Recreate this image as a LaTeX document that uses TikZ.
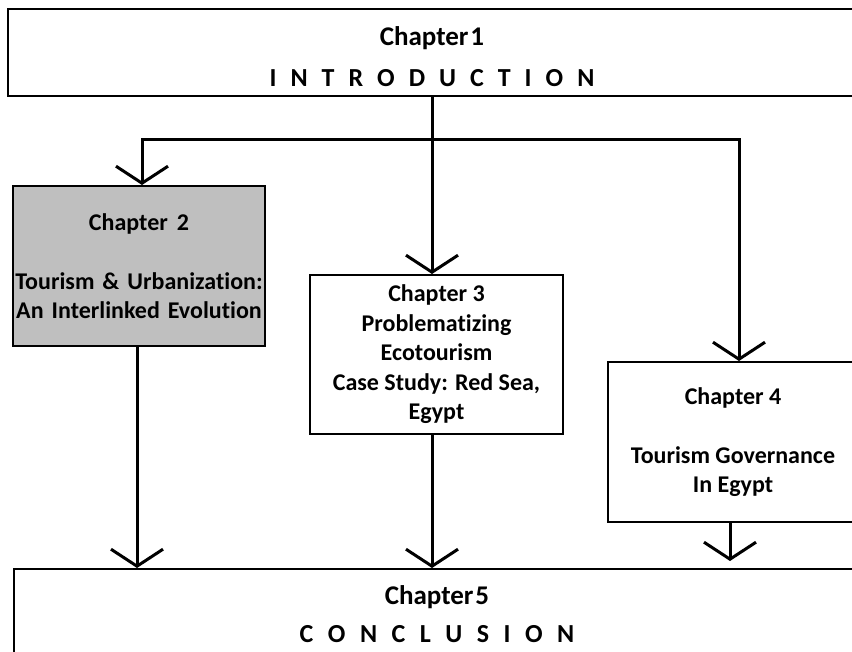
\documentclass[tikz,border=0pt]{standalone}
\usepackage{fontspec}
\setmainfont{Carlito}[Ligatures={NoCommon}]
\usetikzlibrary{arrows.meta}
\definecolor{boxgray}{RGB}{191,191,191}
\newcommand{\lsp}{\hspace{14pt}}
\newcommand{\lspb}{\hspace{14.5pt}}
\begin{document}
\begin{tikzpicture}[x=1pt,y=-1pt,
  box/.style={draw=black, line width=2pt, rectangle, inner sep=0pt, align=center,
    font=\bfseries\fontsize{24}{29.5}\selectfont},
  bigbox/.style={box, font=\bfseries\fontsize{27}{41.5}\selectfont},
  arr/.style={line width=3pt, -{Straight Barb[length=17pt,width=52pt]}},
  link/.style={line width=3pt}]
\clip (0,0) rectangle (852,652);
\node[bigbox, minimum width=848pt, minimum height=87pt] (ch1) at (432,52.5)
  {\rule{0pt}{27.3pt}Chapter\hspace{2pt}1\\{\fontsize{26}{41.5}\selectfont I\lsp N\lsp T\lsp R\lsp O\lsp D\lsp U\lsp C\lsp T\lsp I\lsp O\lsp N}};
\node[box, fill=boxgray, minimum width=252pt, minimum height=160pt] (ch2) at (139,266)
  {Chapter\hspace{9pt}2\\[0pt]~\\Tourism\hspace{8pt}\&\hspace{8pt}Urbanization:\\An\hspace{8pt}Interlinked\hspace{8pt}Evolution};
\node[box, fill=white, minimum width=253pt, minimum height=159pt] (ch3) at (436.5,354.5)
  {Chapter 3\\Problematizing\\Ecotourism\\Case Study: Red Sea,\\Egypt};
\node[box, fill=white, minimum width=250pt, minimum height=160pt] (ch4) at (733,442)
  {Chapter 4\\~\\Tourism Governance\\In Egypt};
\node[bigbox, fill=white, minimum width=846pt, minimum height=90pt, font=\bfseries\fontsize{27}{38}\selectfont] (ch5) at (437,614)
  {Chapter\hspace{2pt}5\\{\fontsize{26}{38}\selectfont C\lspb O\lspb N\lspb C\lspb L\lspb U\lspb S\lspb I\lspb O\lspb N}};
\coordinate (j) at (432,140);
\draw[link] (ch1.south -| j) -- (j);
\draw[arr] (j) -| ([xshift=3pt]ch2.north);
\draw[arr] (j) -- (j |- ch3.north);
\draw[arr] (j) -| ([xshift=6pt]ch4.north);
\draw[arr] ([xshift=-2pt]ch2.south) coordinate (a2) -- (a2 |- ch5.north);
\draw[arr] ([xshift=-4.5pt]ch3.south) coordinate (a3) -- (a3 |- ch5.north);
\draw[arr, shorten >=7pt] ([xshift=-3pt]ch4.south) coordinate (a4) -- (a4 |- ch5.north);
\end{tikzpicture}
\end{document}
